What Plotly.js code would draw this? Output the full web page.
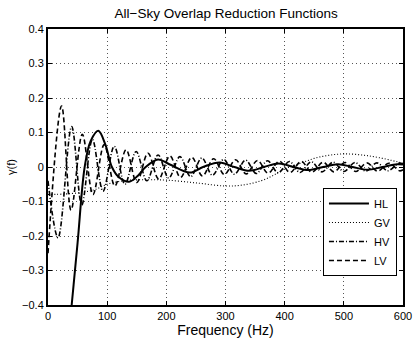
<!DOCTYPE html>
<html>
<head>
<meta charset="utf-8">
<script src="https://cdn.plot.ly/plotly-3.0.1.min.js"></script>
<style>
  html, body { margin: 0; padding: 0; background: #fff; }
  #chart { width: 415px; height: 339px; }
</style>
</head>
<body>
<div id="chart"></div>
<script>
// values (Hz, gamma)
const hlFreq = [0, 10, 20, 30, 40, 50, 62, 72, 85, 97, 108, 120, 137, 152, 165, 186, 205, 240, 262, 290, 315, 340, 365, 390, 415, 440, 465, 490, 515, 540, 565, 590, 600];
const hlGamma = [-0.89, -0.85, -0.74, -0.58, -0.40, -0.22, 0, 0.075, 0.105, 0.065, 0, -0.03, -0.043, -0.025, 0, 0.022, 0.008, -0.016, 0, 0.013, 0, -0.011, 0, 0.01, 0, -0.009, 0, 0.008, 0, -0.008, 0, 0.008, 0.007];

const gvFreq = [0, 30, 60, 80, 100, 120, 140, 170, 200, 250, 300, 330, 360, 380, 400, 427, 450, 475, 500, 530, 560, 600];
const gvGamma = [-0.08, -0.078, -0.073, -0.065, -0.05, -0.042, -0.038, -0.037, -0.038, -0.046, -0.055, -0.052, -0.04, -0.025, -0.005, 0.011, 0.025, 0.034, 0.038, 0.035, 0.027, 0.011];

const hvFreq = [0, 17, 40, 57, 75, 93, 112, 130, 149, 167, 186, 204, 223, 241, 260, 278, 297, 315, 334, 352, 371, 389, 408, 426, 445, 463, 482, 500, 519, 537, 556, 574, 593, 600];
const hvGamma = [-0.04, -0.205, 0.117, -0.11, 0.08, -0.07, 0.06, -0.05, 0.045, -0.04, 0.035, -0.032, 0.03, -0.028, 0.026, -0.024, 0.022, -0.021, 0.02, -0.019, 0.018, -0.017, 0.016, -0.016, 0.015, -0.014, 0.014, -0.013, 0.013, -0.012, 0.012, -0.011, 0.011, 0.009];

const lvFreq = [0, 23, 39, 58, 76, 95, 113, 132, 150, 169, 187, 206, 224, 243, 261, 280, 298, 317, 335, 354, 372, 391, 409, 428, 446, 465, 483, 502, 520, 539, 557, 576, 594, 600];
const lvGamma = [-0.25, 0.177, -0.125, 0.095, -0.08, 0.065, -0.055, 0.05, -0.045, 0.04, -0.035, 0.032, -0.03, 0.028, -0.026, 0.024, -0.022, 0.021, -0.02, 0.019, -0.018, 0.017, -0.016, 0.016, -0.015, 0.014, -0.014, 0.013, -0.013, 0.012, -0.012, 0.011, -0.011, -0.008];

const font = "Liberation Sans, Arial, sans-serif";

function curve(x, y, name, dash, width) {
  return {
    x: x, y: y, name: name,
    type: "scatter", mode: "lines",
    line: { color: "#000", dash: dash, width: width, shape: "spline" },
  };
}

// matlab-ish short dash patterns
const traces = [
  curve(hlFreq, hlGamma, "HL", "solid", 2),
  curve(gvFreq, gvGamma, "GV", "1px,2px", 1.1),
  curve(hvFreq, hvGamma, "HV", "5px,2px,1px,2px", 1.6),
  curve(lvFreq, lvGamma, "LV", "5px,3px", 1.6),
];

const axisCommon = {
  showline: true, linecolor: "#000", linewidth: 2, mirror: "ticks",
  ticks: "inside", ticklen: 4, tickcolor: "#000", tickwidth: 1,
  showgrid: true, gridcolor: "#555", griddash: "1px,3px", gridwidth: 1,
  zeroline: false,
  tickfont: { family: font, size: 11, color: "#000" },
};

const layout = {
  width: 415, height: 339,
  margin: { l: 48, r: 12, t: 29, b: 34 },
  paper_bgcolor: "#fff", plot_bgcolor: "#fff",
  font: { family: font, color: "#000" },
  title: { text: "All\u2212Sky Overlap Reduction Functions", font: { size: 13.5, family: font }, x: 0.545, xanchor: "center", y: 0.975, yanchor: "top" },
  xaxis: Object.assign({}, axisCommon, {
    range: [0, 600], dtick: 100, tick0: 0,
    title: { text: "Frequency (Hz)", font: { size: 14, family: font }, standoff: 1 },
  }),
  yaxis: Object.assign({}, axisCommon, {
    range: [-0.4, 0.4], dtick: 0.1, tick0: 0,
    title: { text: "\u03b3(f)", font: { size: 11, family: font }, standoff: 4 },
  }),
  showlegend: true,
  legend: {
    x: 0.983, xanchor: "right", y: 0.105, yanchor: "bottom",
    bgcolor: "#fff", bordercolor: "#000", borderwidth: 1,
    font: { family: font, size: 11 },
    itemwidth: 40, tracegroupgap: 0,
  },
};

Plotly.newPlot("chart", traces, layout, { staticPlot: true });
</script>
</body>
</html>
